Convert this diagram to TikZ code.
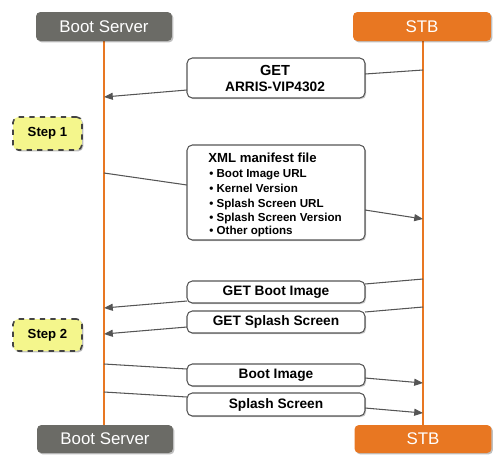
\documentclass[tikz,border=0pt]{standalone}
\usepackage{fontspec}
\setmainfont{Liberation Sans}
\usetikzlibrary{arrows.meta,shadows,calc}
\definecolor{srvgray}{HTML}{6B6B66}
\definecolor{stborange}{HTML}{E87722}
\definecolor{linegray}{HTML}{555555}
\definecolor{stepyellow}{HTML}{F4F68C}
\begin{document}
\begin{tikzpicture}[x=0.02cm,y=-0.02cm,
  header/.style={rounded corners=2.5pt, inner sep=0pt, text=white,
    font=\fontsize{9.6}{11}\selectfont, minimum height=0.58cm,
    drop shadow={shadow xshift=0.8pt, shadow yshift=-0.8pt, opacity=0.25, fill=black}},
  msgbox/.style={draw=linegray, line width=0.6pt, fill=white, rounded corners=3pt,
    inner sep=0pt, minimum width=3.56cm, font=\bfseries\fontsize{7.8}{9}\selectfont,
    drop shadow={shadow xshift=0.7pt, shadow yshift=-0.7pt, opacity=0.2, fill=black}},
  stepbox/.style={draw=linegray!80!black, dashed, line width=0.9pt, fill=stepyellow,
    rounded corners=3pt, inner sep=0pt, minimum width=1.38cm,
    font=\bfseries\fontsize{7.5}{9}\selectfont,
    drop shadow={shadow xshift=0.8pt, shadow yshift=-0.8pt, opacity=0.25, fill=black}},
  lifeline/.style={draw=stborange, line width=1.1pt},
  msg/.style={draw=linegray, line width=0.6pt},
  msgarrow/.style={msg, -{Triangle[length=5pt,width=4pt]}},
  listitem/.style={anchor=base west, inner sep=0pt, font=\bfseries\fontsize{6.6}{8}\selectfont}
]
\useasboundingbox (0,0) rectangle (500,464);

% lifelines
\coordinate (srvtop) at (104,41);
\coordinate (srvbot) at (104,425);
\coordinate (stbtop) at (423,41);
\coordinate (stbbot) at (423,425);
\draw[lifeline] (srvtop) -- (srvbot);
\draw[lifeline] (stbtop) -- (stbbot);

% headers
\node[header, fill=srvgray, minimum width=2.72cm] (srvh) at (104,26.5) {Boot Server};
\node[header, fill=stborange, minimum width=2.76cm] (stbh) at (422,26.5) {STB};
\node[header, fill=srvgray, minimum width=2.72cm, minimum height=0.56cm] (srvf) at (105,439) {Boot Server};
\node[header, fill=stborange, minimum width=2.74cm, minimum height=0.56cm] (stbf) at (423,439) {STB};

% message endpoints
\coordinate (m1a) at (423,70);  \coordinate (m1b) at (365,74);
\coordinate (m1c) at (187,90);  \coordinate (m1d) at (104,97);
\coordinate (m2a) at (104,173); \coordinate (m2b) at (187,185);
\coordinate (m2c) at (365,210); \coordinate (m2d) at (423,219);
\coordinate (m3a) at (423,279); \coordinate (m3b) at (365,284);
\coordinate (m3c) at (187,301); \coordinate (m3d) at (104,308);
\coordinate (m4a) at (423,307); \coordinate (m4b) at (365,312);
\coordinate (m4c) at (187,327); \coordinate (m4d) at (104,334);
\coordinate (m5a) at (104,364); \coordinate (m5b) at (187,369);
\coordinate (m5c) at (365,378); \coordinate (m5d) at (423,383);
\coordinate (m6a) at (104,392); \coordinate (m6b) at (187,397);
\coordinate (m6c) at (365,408); \coordinate (m6d) at (423,413);

\draw[msg] (m1a) -- (m1b); \draw[msgarrow] (m1c) -- (m1d);
\draw[msg] (m2a) -- (m2b); \draw[msgarrow] (m2c) -- (m2d);
\draw[msg] (m3a) -- (m3b); \draw[msgarrow] (m3c) -- (m3d);
\draw[msg] (m4a) -- (m4b); \draw[msgarrow] (m4c) -- (m4d);
\draw[msg] (m5a) -- (m5b); \draw[msgarrow] (m5c) -- (m5d);
\draw[msg] (m6a) -- (m6b); \draw[msgarrow] (m6c) -- (m6d);

% message boxes
\node[msgbox, minimum height=0.8cm] (getbox) at (276,78) {};
\node[inner sep=0pt, font=\bfseries\fontsize{8.3}{10}\selectfont] (gettxt) at (275,70) {GET};
\node[inner sep=0pt, font=\bfseries\fontsize{7.8}{9}\selectfont] (arristxt) at (275,87) {ARRIS-VIP4302};

\node[msgbox, minimum height=1.9cm] (xmlbox) at (276,192.5) {};
\node[anchor=base west, inner sep=0pt, font=\bfseries\fontsize{7.5}{9}\selectfont] (xmltitle) at (208,162) {XML manifest file};
\node[listitem] (li1) at (209,177.5) {\textbullet\ Boot Image URL};
\node[listitem] (li2) at (209,192.5) {\textbullet\ Kernel Version};
\node[listitem] (li3) at (209,207) {\textbullet\ Splash Screen URL};
\node[listitem] (li4) at (209,221) {\textbullet\ Splash Screen Version};
\node[listitem] (li5) at (209,234.5) {\textbullet\ Other options};

\node[msgbox, minimum height=0.44cm] (getboot) at (276,292) {GET Boot Image};
\node[msgbox, minimum height=0.44cm] (getsplash) at (276,322) {GET Splash Screen};
\node[msgbox, minimum height=0.44cm] (bootimg) at (276,375) {Boot Image};
\node[msgbox, minimum height=0.46cm] (splash) at (276,404.5) {Splash Screen};

% steps
\node[stepbox, minimum height=0.66cm] (step1) at (47.5,133.5) {Step 1};
\node[stepbox, minimum height=0.64cm] (step2) at (47.5,335) {Step 2};
\end{tikzpicture}
\end{document}
